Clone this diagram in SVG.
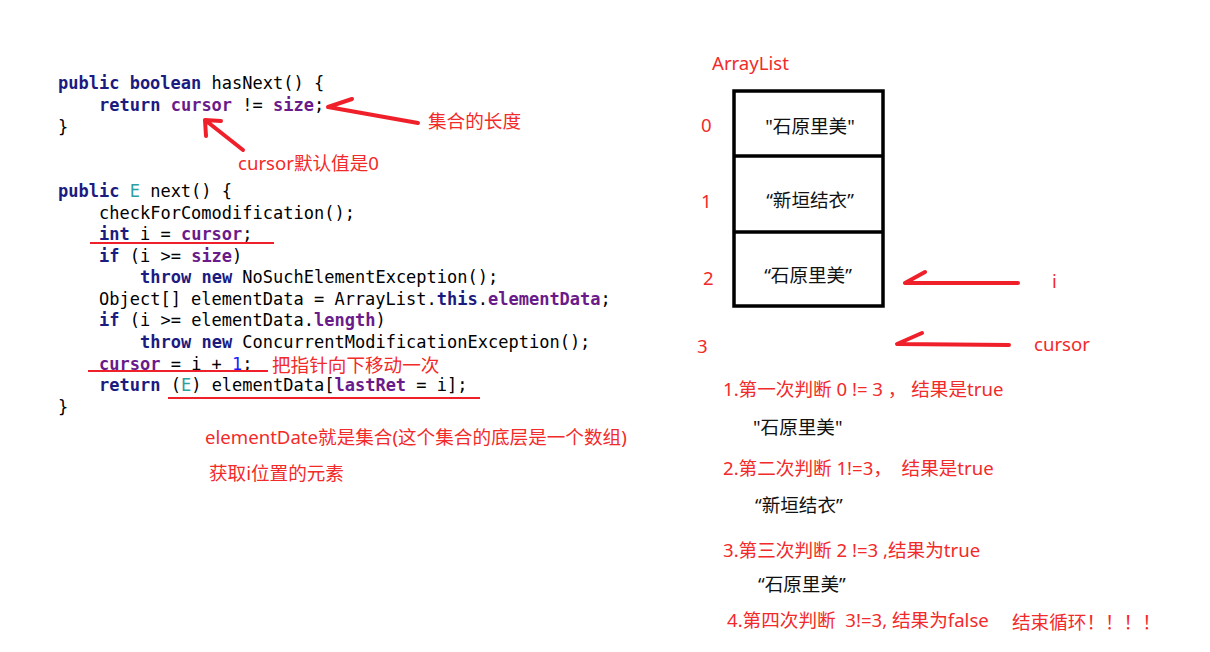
<svg xmlns="http://www.w3.org/2000/svg" width="1210" height="652" viewBox="0 0 1210 652">
<style>
.code{font-family:"DejaVu Sans Mono","Liberation Mono",monospace;font-size:17px;fill:#000;white-space:pre}
.kw{fill:#1b1b80;font-weight:bold}
.fld{fill:#6a1b8a;font-weight:bold}
.ty{fill:#2aa0a0}
.num{fill:#1a1aff}
.red{font-family:"Noto Sans","Noto Sans CJK SC",sans-serif;font-size:18.6px;fill:#f22a2a;white-space:pre}
.blk{font-family:"Noto Sans","Noto Sans CJK SC",sans-serif;font-size:18.6px;fill:#111}
.arrow{fill:none;stroke:#f0202a;stroke-width:4;stroke-linecap:round;stroke-linejoin:round}
.uline{stroke:#f0202a;stroke-width:2}
.box{fill:#fff;stroke:#000;stroke-width:3.5}
</style>
<rect width="1210" height="652" fill="#fff"/>
<g id="code">
<text class="code" x="58" y="89"><tspan class="kw">public boolean</tspan> hasNext() {</text>
<text class="code" x="99" y="111"><tspan class="kw">return</tspan> <tspan class="fld">cursor</tspan> != <tspan class="fld">size</tspan>;</text>
<text class="code" x="58" y="133">}</text>
<text class="code" x="58" y="197"><tspan class="kw">public</tspan> <tspan class="ty">E</tspan> next() {</text>
<text class="code" x="99" y="219">checkForComodification();</text>
<text class="code" x="99" y="240"><tspan class="kw">int</tspan> i = <tspan class="fld">cursor</tspan>;</text>
<text class="code" x="99" y="262"><tspan class="kw">if</tspan> (i &gt;= <tspan class="fld">size</tspan>)</text>
<text class="code" x="140" y="283"><tspan class="kw">throw new</tspan> NoSuchElementException();</text>
<text class="code" x="99" y="305">Object[] elementData = ArrayList.<tspan class="kw">this</tspan>.<tspan class="fld">elementData</tspan>;</text>
<text class="code" x="99" y="326"><tspan class="kw">if</tspan> (i &gt;= elementData.<tspan class="fld">length</tspan>)</text>
<text class="code" x="140" y="348"><tspan class="kw">throw new</tspan> ConcurrentModificationException();</text>
<text class="code" x="99" y="370"><tspan class="fld">cursor</tspan> = i + <tspan class="num">1</tspan>;</text>
<text class="code" x="99" y="391"><tspan class="kw">return</tspan> (<tspan class="ty">E</tspan>) elementData[<tspan class="fld">lastRet</tspan> = i];</text>
<text class="code" x="58" y="413">}</text>
</g>
<g id="underlines">
<line class="uline" x1="90" y1="243" x2="274" y2="243"/>
<line class="uline" x1="88" y1="371" x2="268" y2="371"/>
<line class="uline" x1="168" y1="398" x2="480" y2="398"/>
</g>
<g id="note-size"><text class="red" x="428" y="128">集合的长度</text></g>
<g id="note-cursor"><text class="red" x="238" y="170">cursor默认值是0</text></g>
<g id="note-move"><text class="red" x="272" y="372">把指针向下移动一次</text></g>
<g id="note-elementdata"><text class="red" x="205" y="444">elementDate就是集合(这个集合的底层是一个数组)</text></g>
<g id="note-get"><text class="red" x="209" y="480">获取i位置的元素</text></g>
<g id="arraylist">
<text class="red" x="712" y="70">ArrayList</text>
<rect class="box" x="734" y="91" width="149" height="215"/>
<line x1="734" y1="156" x2="883" y2="156" stroke="#000" stroke-width="3.5"/>
<line x1="734" y1="232" x2="883" y2="232" stroke="#000" stroke-width="3.5"/>
<text class="blk" x="810" y="133" text-anchor="middle">"石原里美"</text>
<text class="blk" x="810" y="207" text-anchor="middle">“新垣结衣”</text>
<text class="blk" x="808" y="282" text-anchor="middle">“石原里美”</text>
</g>
<g id="indices">
<text class="red" x="701" y="132">0</text>
<text class="red" x="701" y="208">1</text>
<text class="red" x="703" y="285">2</text>
<text class="red" x="697" y="353">3</text>
</g>
<g id="label-i"><text class="red" x="1052" y="288">i</text></g>
<g id="label-cursor"><text class="red" x="1034" y="351">cursor</text></g>
<g id="connectors">
<path class="arrow" d="M352 99 L328 107 L418 123"/>
<path class="arrow" d="M206 136 L205 120 L221 121 M205 120 L243 150"/>
<path class="arrow" d="M925 272 L905 283 L1018 283"/>
<path class="arrow" d="M922 333 L897 344 L1009 345"/>
</g>
<g id="steps">
<text class="red" x="723" y="396">1.第一次判断 0 != 3 ， 结果是true</text>
<text class="blk" x="753" y="434">"石原里美"</text>
<text class="red" x="723" y="475">2.第二次判断 1!=3，  结果是true</text>
<text class="blk" x="755" y="512">“新垣结衣”</text>
<text class="red" x="723" y="557">3.第三次判断 2 !=3 ,结果为true</text>
<text class="blk" x="758" y="591">“石原里美”</text>
<text class="red" x="727" y="627">4.第四次判断  3!=3, 结果为false</text>
<text class="red" x="1012" y="629">结束循环！！！！</text>
</g>
</svg>
